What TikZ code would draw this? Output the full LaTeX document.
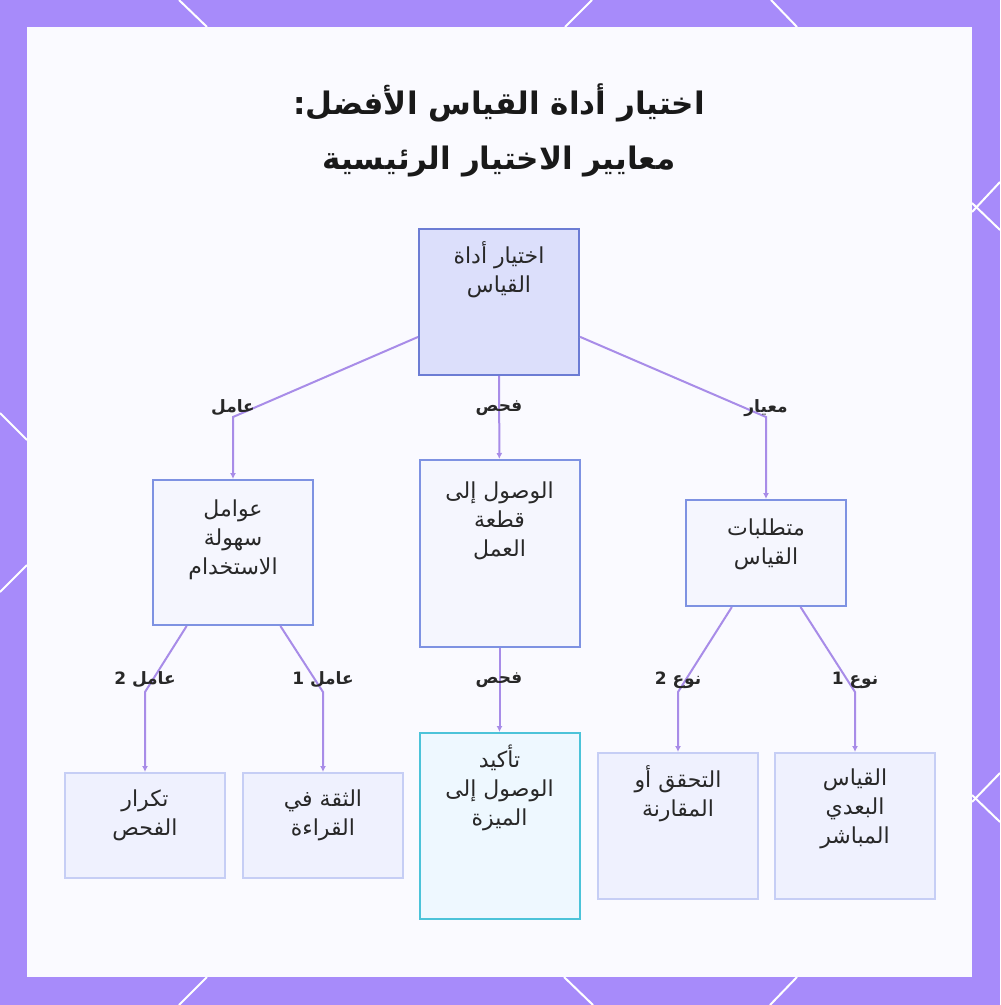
\documentclass[tikz,border=0pt]{standalone}
\usepackage{fontspec}
\newfontfamily\arabicfont[Script=Arabic]{DejaVu Sans}
\TeXXeTstate=1
\usetikzlibrary{arrows.meta, positioning}

\definecolor{framec}{RGB}{167,139,250}
\definecolor{edgec}{RGB}{168,140,232}
\definecolor{rootfill}{RGB}{220,223,251}
\definecolor{rootline}{RGB}{108,124,212}
\definecolor{midfill}{RGB}{245,246,254}
\definecolor{midline}{RGB}{126,146,226}
\definecolor{leaffill}{RGB}{239,241,254}
\definecolor{leafline}{RGB}{198,206,245}
\definecolor{cyanfill}{RGB}{238,248,255}
\definecolor{cyanline}{RGB}{76,195,217}
\definecolor{ink}{RGB}{40,40,40}

\newcommand{\ar}[1]{{\arabicfont\beginR #1\endR}}

\begin{document}
\begin{tikzpicture}[x=0.5pt, y=-0.5pt, label distance=0pt,
    box/.style={draw=midline, fill=midfill, line width=1pt, minimum width=80pt, inner sep=0pt},
    txt/.style={anchor=north, yshift=-3pt, align=center, text=ink, font=\fontsize{11}{14.5}\selectfont},
    edge/.style={draw=edgec, line width=1pt, -{Latex[length=3pt, width=3pt]}},
    elbl/.style={text=ink, font=\fontsize{8.5}{10}\selectfont\bfseries}]
    \useasboundingbox (0,0) rectangle (1000,1005);

    % frame
    \fill[framec] (0,0) rectangle (1000,1005);
    \draw[white, line width=1pt] (179,0) -- (207,27);
    \draw[white, line width=1pt] (592,0) -- (565,27);
    \draw[white, line width=1pt] (771,0) -- (797,27);
    \draw[white, line width=1pt] (179,1005) -- (207,977);
    \draw[white, line width=1pt] (593,1005) -- (564,977);
    \draw[white, line width=1pt] (770,1005) -- (797,977);
    \draw[white, line width=1pt] (0,413) -- (27,440);
    \draw[white, line width=1pt] (0,592) -- (27,565);
    \draw[white, line width=1pt] (1000,182) -- (972,212);
    \draw[white, line width=1pt] (1000,230) -- (972,203);
    \draw[white, line width=1pt] (1000,773) -- (972,802);
    \draw[white, line width=1pt] (1000,822) -- (972,795);
    \fill[white!98!blue] (27,27) rectangle (972,977);

    % title
    \node[align=center, text=black!90, font=\fontsize{15.5}{27.5}\selectfont\bfseries] (title) at (499,130)
        {\ar{اختيار أداة القياس الأفضل:}\\\ar{معايير الاختيار الرئيسية}};

    % boxes
    \node[box, draw=rootline, fill=rootfill, minimum height=73pt,
        label={[txt]north:{\ar{اختيار أداة}\\\ar{القياس}}}] (root) at (499,302) {};
    \node[box, minimum height=72.5pt,
        label={[txt, yshift=-4pt]north:{\ar{عوامل}\\\ar{سهولة}\\\ar{الاستخدام}}}] (ease) at (233,552.5) {};
    \node[box, minimum height=93.5pt,
        label={[txt, yshift=-5pt]north:{\ar{الوصول إلى}\\\ar{قطعة}\\\ar{العمل}}}] (access) at (499.5,553.5) {};
    \node[box, minimum height=53pt,
        label={[txt, yshift=-3.5pt]north:{\ar{متطلبات}\\\ar{القياس}}}] (req) at (766,553) {};

    \node[box, draw=leafline, fill=leaffill, minimum height=52.5pt,
        label={[txt, yshift=-2.5pt]north:{\ar{تكرار}\\\ar{الفحص}}}] (repeat) at (145,825.5) {};
    \node[box, draw=leafline, fill=leaffill, minimum height=52.5pt,
        label={[txt, yshift=-2.5pt]north:{\ar{الثقة في}\\\ar{القراءة}}}] (trust) at (323,825.5) {};
    \node[box, draw=cyanline, fill=cyanfill, minimum height=93pt,
        label={[txt]north:{\ar{تأكيد}\\\ar{الوصول إلى}\\\ar{الميزة}}}] (confirm) at (499.5,826) {};
    \node[box, draw=leafline, fill=leaffill, minimum height=73pt,
        label={[txt]north:{\ar{التحقق أو}\\\ar{المقارنة}}}] (compare) at (678,826) {};
    \node[box, draw=leafline, fill=leaffill, minimum height=73pt,
        label={[txt, yshift=-2pt]north:{\ar{القياس}\\\ar{البعدي}\\\ar{المباشر}}}] (direct) at (855,826) {};

    % bends
    \coordinate (k1) at (233,417);
    \coordinate (k2) at (766,417);
    \coordinate (k3) at (145,692);
    \coordinate (k4) at (323,692);
    \coordinate (k5) at (678,692);
    \coordinate (k6) at (855,692);

    % connectors
    \draw[edge] (root) -- (k1) -- (ease);
    \draw[edge] (root) -- (access);
    \draw[edge] (root) -- (k2) -- (req);
    \draw[edge] (ease) -- (k3) -- (repeat);
    \draw[edge] (ease) -- (k4) -- (trust);
    \draw[edge] (access) -- (confirm);
    \draw[edge] (req) -- (k5) -- (compare);
    \draw[edge] (req) -- (k6) -- (direct);

    % edge labels
    \node[elbl] (l1) at (233,408) {\ar{عامل}};
    \node[elbl] (l2) at (499,408) {\ar{فحص}};
    \node[elbl] (l3) at (766,408) {\ar{معيار}};
    \node[elbl] (l4) at (145,680) {\ar{عامل 2}};
    \node[elbl] (l5) at (323,680) {\ar{عامل 1}};
    \node[elbl] (l6) at (499,680) {\ar{فحص}};
    \node[elbl] (l7) at (678,680) {\ar{نوع 2}};
    \node[elbl] (l8) at (855,680) {\ar{نوع 1}};
\end{tikzpicture}
\end{document}
